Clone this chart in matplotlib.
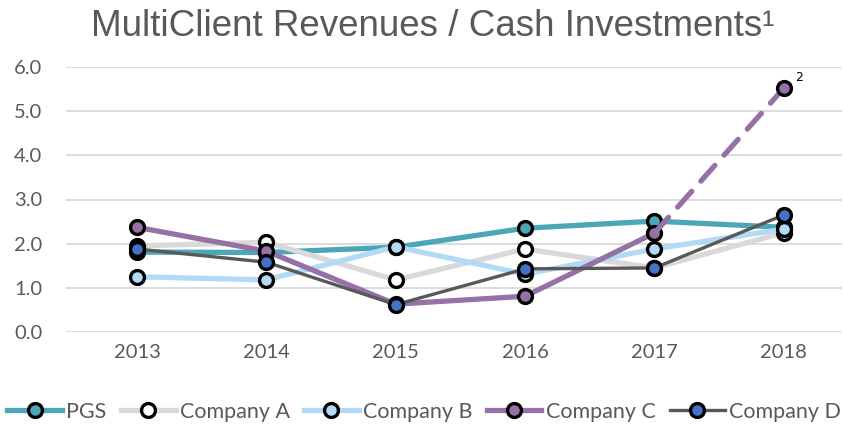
import numpy as np
import matplotlib.pyplot as plt

years = [2013, 2014, 2015, 2016, 2017, 2018]
pgs = [1.81, 1.80, 1.92, 2.35, 2.51, 2.37]
comp_a = [1.95, 2.03, 1.18, 1.88, 1.45, 2.25]
comp_b = [1.25, 1.18, 1.93, 1.31, 1.88, 2.33]
comp_c = [2.37, 1.83, 0.63, 0.81, 2.24, 5.52]
comp_d = [1.88, 1.58, 0.62, 1.43, 1.45, 2.65]

txt = '#595959'
plt.rcParams['font.family'] = ['Lato', 'DejaVu Sans']

fig = plt.figure(figsize=(8.43, 4.24), dpi=100)
ax = fig.add_axes([66/843, 1-332/424, (842-66)/843, (332-67)/424])

mk = dict(marker='o', markersize=10, markeredgecolor='black', markeredgewidth=2.4,
          clip_on=False)

ax.plot(years, pgs, color='#4BA7B7', lw=3.8, markerfacecolor='#4BA7B7', label='PGS', **mk)
ax.plot(years, comp_a, color='#D9D9D9', lw=3.8, markerfacecolor='white', label='Company A', **mk)
ax.plot(years, comp_b, color='#B3DAF5', lw=3.8, markerfacecolor='#B3DAF5', label='Company B', **mk)
ax.plot(years[:5], comp_c[:5], color='#9671A6', lw=3.8, markerfacecolor='#9671A6',
        label='Company C', **mk)
ax.plot(years[4:], comp_c[4:], color='#9671A6', lw=3.8, dashes=(4, 2.6),
        dash_capstyle='round', markevery=[1], markerfacecolor='#9671A6', **mk)
ax.plot(years, comp_d, color='#595959', lw=2.4, markerfacecolor='#4472C4', label='Company D', **mk)

ax.annotate('2', (years[5], comp_c[5]), xytext=(8, 5), textcoords='offset points',
            fontsize=9, color='black', family='DejaVu Sans')

ax.set_xlim(2012.45, 2018.45)
ax.set_ylim(0, 6)
ax.set_yticks(np.arange(0, 7, 1))
ax.set_yticklabels([f'{v:.1f}' for v in np.arange(0, 7, 1)])
ax.set_xticks(years)
ax.grid(axis='y', color='#D9D9D9', lw=1.3)
ax.set_axisbelow(True)
for s in ax.spines.values():
    s.set_visible(False)
ax.tick_params(axis='both', length=0, labelsize=14.5, colors=txt)
ax.tick_params(axis='y', pad=17)
ax.tick_params(axis='x', pad=9)

fig.text(0.513, 0.938, 'MultiClient Revenues / Cash Investments\u00b9', ha='center', va='center',
         fontsize=26.5, color=txt, family='Liberation Sans')

leg = ax.legend(loc='center', bbox_to_anchor=(0.5 - 30/776, -0.3), ncol=5, frameon=False,
                fontsize=15.5, handlelength=2.55, columnspacing=0.65, handletextpad=0.2,
                labelcolor=txt)

fig.savefig('out.png', dpi=100)
